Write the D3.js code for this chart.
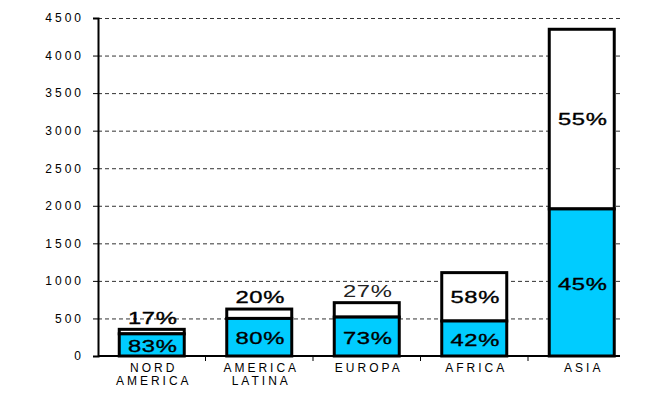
<!DOCTYPE html>
<html>
<head>
<meta charset="utf-8">
<script src="https://cdn.jsdelivr.net/npm/d3@7"></script>
<style>
  body { margin: 0; background: #fff; }
  svg { display: block; font-family: "Liberation Sans", Arial, sans-serif; }
</style>
</head>
<body>
<div id="chart"></div>
<script>
// data
var categories = ['NORD AMERICA', 'AMERICA LATINA', 'EUROPA', 'AFRICA', 'ASIA'];
var blueValues = [295, 500, 518, 466, 1958];
var whiteValues = [60, 125, 192, 644, 2392];
var bluePct = ['83%', '80%', '73%', '42%', '45%'];
var whitePct = ['17%', '20%', '27%', '58%', '55%'];
var yTicks = [0, 500, 1000, 1500, 2000, 2500, 3000, 3500, 4000, 4500];

var width = 662, height = 395;
var plot = { left: 98, right: 635.5, top: 18, bottom: 356, gridEnd: 620 };
var barW = 65;

var svg = d3.select('#chart').append('svg')
  .attr('width', width).attr('height', height);

var x = d3.scaleBand().domain(categories).range([plot.left, plot.right]);
var y = d3.scaleLinear().domain([0, 4500]).range([plot.bottom, plot.top]);

// grid lines
svg.append('g').selectAll('line')
  .data(yTicks.filter(function(d){ return d > 0; }))
  .enter().append('line')
  .attr('x1', plot.left).attr('x2', plot.gridEnd)
  .attr('y1', function(d){ return y(d) + 0.5; })
  .attr('y2', function(d){ return y(d) + 0.5; })
  .attr('stroke', '#333')
  .attr('stroke-width', 1)
  .attr('stroke-dasharray', '4,3');

// y axis
var yAxis = d3.axisLeft(y).tickValues(yTicks).tickFormat(d3.format('d')).tickSize(5).tickPadding(12);
var gy = svg.append('g')
  .attr('transform', 'translate(' + plot.left + ',0)')
  .call(yAxis);
gy.select('.domain').attr('stroke', '#000').attr('stroke-width', 2);
gy.selectAll('.tick line').attr('stroke', '#000');
gy.selectAll('.tick text')
  .attr('font-size', '12px')
  .attr('font-family', '"Liberation Sans", Arial, sans-serif')
  .attr('fill', '#000')
  .style('letter-spacing', '3px')
  .attr('dx', '3px');

// bars
var g = svg.append('g');
categories.forEach(function(c, i){
  var cx = x(c) + x.bandwidth() / 2;
  var b = blueValues[i], w = whiteValues[i];
  g.append('rect')
    .attr('x', cx - barW / 2)
    .attr('y', y(b + w))
    .attr('width', barW)
    .attr('height', y(b) - y(b + w))
    .attr('fill', '#fff')
    .attr('stroke', '#000')
    .attr('stroke-width', 3);
  g.append('rect')
    .attr('x', cx - barW / 2)
    .attr('y', y(b))
    .attr('width', barW)
    .attr('height', plot.bottom - y(b))
    .attr('fill', '#00ccff')
    .attr('stroke', '#000')
    .attr('stroke-width', 3);
});

// x axis line and ticks
svg.append('line')
  .attr('x1', plot.left).attr('x2', plot.gridEnd)
  .attr('y1', plot.bottom).attr('y2', plot.bottom)
  .attr('stroke', '#000').attr('stroke-width', 2);
svg.append('g').selectAll('line')
  .data(categories.slice(1))
  .enter().append('line')
  .attr('x1', function(d){ return x(d); })
  .attr('x2', function(d){ return x(d); })
  .attr('y1', plot.bottom).attr('y2', plot.bottom + 5)
  .attr('stroke', '#000');

// category labels
svg.append('g').selectAll('text')
  .data(categories)
  .enter().append('text')
  .attr('x', function(d){ return x(d) + x.bandwidth() / 2 + 2; })
  .attr('y', 372)
  .attr('text-anchor', 'middle')
  .attr('font-size', '12px')
  .style('letter-spacing', '3px')
  .each(function(d){
    var words = d.split(' ');
    var t = d3.select(this);
    words.forEach(function(wd, k){
      t.append('tspan')
        .attr('x', t.attr('x'))
        .attr('dy', k === 0 ? 0 : 13)
        .text(wd);
    });
  });

// percent labels (wide, stretched look)
function pctLabel(px, py, txt, heavy) {
  svg.append('text')
    .attr('transform', 'translate(' + (px + 1) + ',' + py + ') scale(1.4,1)')
    .attr('text-anchor', 'middle')
    .attr('dominant-baseline', 'central')
    .attr('font-size', '17px')
    .attr('fill', heavy ? '#000' : '#222')
    .attr('stroke', heavy ? '#000' : 'none')
    .attr('stroke-width', 0.35)
    .style('letter-spacing', '0.5px')
    .text(txt);
}
categories.forEach(function(c, i){
  var cx = x(c) + x.bandwidth() / 2;
  var b = blueValues[i], w = whiteValues[i];
  pctLabel(cx, (y(b) + plot.bottom) / 2 + 1, bluePct[i], true);
  var hWhite = y(b) - y(b + w);
  if (hWhite > 30) {
    pctLabel(cx, (y(b + w) + y(b)) / 2, whitePct[i], true);
  } else {
    pctLabel(cx, y(b + w) - 12, whitePct[i], i !== 2);
  }
});
</script>
</body>
</html>
